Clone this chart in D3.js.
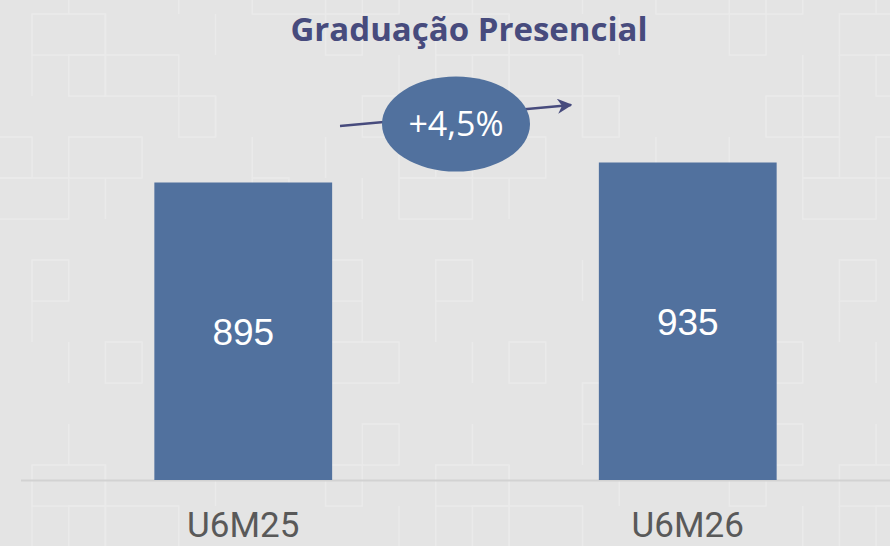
<!DOCTYPE html>
<html>
<head>
<meta charset="utf-8">
<script src="https://cdnjs.cloudflare.com/ajax/libs/d3/7.8.5/d3.min.js"></script>
<style>
  html, body { margin: 0; padding: 0; background: #e5e5e5; }
</style>
</head>
<body>
<div id="chart"></div>
<script>
// data
var categories = ['U6M25', 'U6M26'];
var values = [895, 935];
var growthLabel = '+4,5%';
var title = 'Graduação Presencial';

var width = 890, height = 546;

var svg = d3.select('#chart')
    .append('svg')
        .attr('width', width)
        .attr('height', height)
        .style('display', 'block');

svg.append('rect')
    .attr('width', width)
    .attr('height', height)
    .attr('fill', '#e4e4e4');

// subtle tiled squares in the background
var tileW = 36.7, tileH = 41;
var bg = svg.append('g')
    .attr('stroke', '#eaeaea')
    .attr('stroke-width', 1.5)
    .attr('fill', 'none');
for (var i = -1; i < 26; i++) {
    for (var j = -1; j < 14; j++) {
        var h = ((i * 7 + j * 13 + i * j * 3) % 11 + 11) % 11;
        if (h < 2) {
            bg.append('rect')
                .attr('x', 32 + i * tileW)
                .attr('y', 14 + j * tileH)
                .attr('width', tileW * (h === 0 ? 2 : 1))
                .attr('height', tileH);
        } else if (h < 4) {
            bg.append('line')
                .attr('x1', 32 + i * tileW)
                .attr('x2', 32 + i * tileW)
                .attr('y1', 14 + j * tileH)
                .attr('y2', 14 + (j + 1) * tileH);
        }
    }
}

var x = d3.scaleBand()
    .domain(categories)
    .range([21, 910])
    .paddingInner(0.6)
    .paddingOuter(0.3);

var y = d3.scaleLinear()
    .domain([300, 1000])
    .range([480, 130]);

// baseline
svg.append('line')
    .attr('x1', 21)
    .attr('x2', width)
    .attr('y1', 480.5)
    .attr('y2', 480.5)
    .attr('stroke', '#d2d2d2')
    .attr('stroke-width', 2);

svg.selectAll('.bar')
    .data(values)
    .enter()
    .append('rect')
        .attr('class', 'bar')
        .attr('x', function(d, i) { return x(categories[i]); })
        .attr('y', function(d) { return y(d); })
        .attr('width', x.bandwidth())
        .attr('height', function(d) { return y(300) - y(d); })
        .attr('fill', '#51719e');

svg.selectAll('.value')
    .data(values)
    .enter()
    .append('text')
        .attr('class', 'value')
        .attr('x', function(d, i) { return x(categories[i]) + x.bandwidth() / 2; })
        .attr('y', function(d) { return (y(d) + y(300)) / 2; })
        .attr('dy', '0.36em')
        .attr('text-anchor', 'middle')
        .attr('font-family', 'Liberation Sans, Arial, sans-serif')
        .attr('font-size', 37)
        .attr('fill', 'white')
        .text(function(d) { return d; });

svg.selectAll('.cat')
    .data(categories)
    .enter()
    .append('text')
        .attr('class', 'cat')
        .attr('x', function(d) { return x(d) + x.bandwidth() / 2; })
        .attr('y', 537)
        .attr('text-anchor', 'middle')
        .attr('font-family', 'Roboto, sans-serif')
        .attr('font-size', 35)
        .attr('fill', '#595959')
        .text(function(d) { return d; });

// title
svg.append('text')
    .attr('x', 469)
    .attr('y', 41)
    .attr('text-anchor', 'middle')
    .attr('font-family', 'Open Sans, sans-serif')
    .attr('font-weight', 'bold')
    .attr('font-size', 33)
    .attr('fill', '#474b7d')
    .text(title);

// growth arrow + bubble
svg.append('defs')
    .append('marker')
        .attr('id', 'arrow')
        .attr('viewBox', '0 0 10 10')
        .attr('refX', 9)
        .attr('refY', 5)
        .attr('markerWidth', 6)
        .attr('markerHeight', 6)
        .attr('orient', 'auto')
    .append('path')
        .attr('d', 'M0,0 L10,5 L0,10 L3,5 Z')
        .attr('fill', '#474b7d');

svg.append('line')
    .attr('x1', 340)
    .attr('y1', 126)
    .attr('x2', 571)
    .attr('y2', 105)
    .attr('stroke', '#474b7d')
    .attr('stroke-width', 2.5)
    .attr('marker-end', 'url(#arrow)');

svg.append('ellipse')
    .attr('cx', 456)
    .attr('cy', 124)
    .attr('rx', 74)
    .attr('ry', 47.5)
    .attr('fill', '#51719e');

svg.append('text')
    .attr('x', 456)
    .attr('y', 124)
    .attr('dy', '0.36em')
    .attr('text-anchor', 'middle')
    .attr('font-family', 'Open Sans, sans-serif')
    .attr('font-size', 34)
    .attr('fill', 'white')
    .text(growthLabel);
</script>
</body>
</html>
